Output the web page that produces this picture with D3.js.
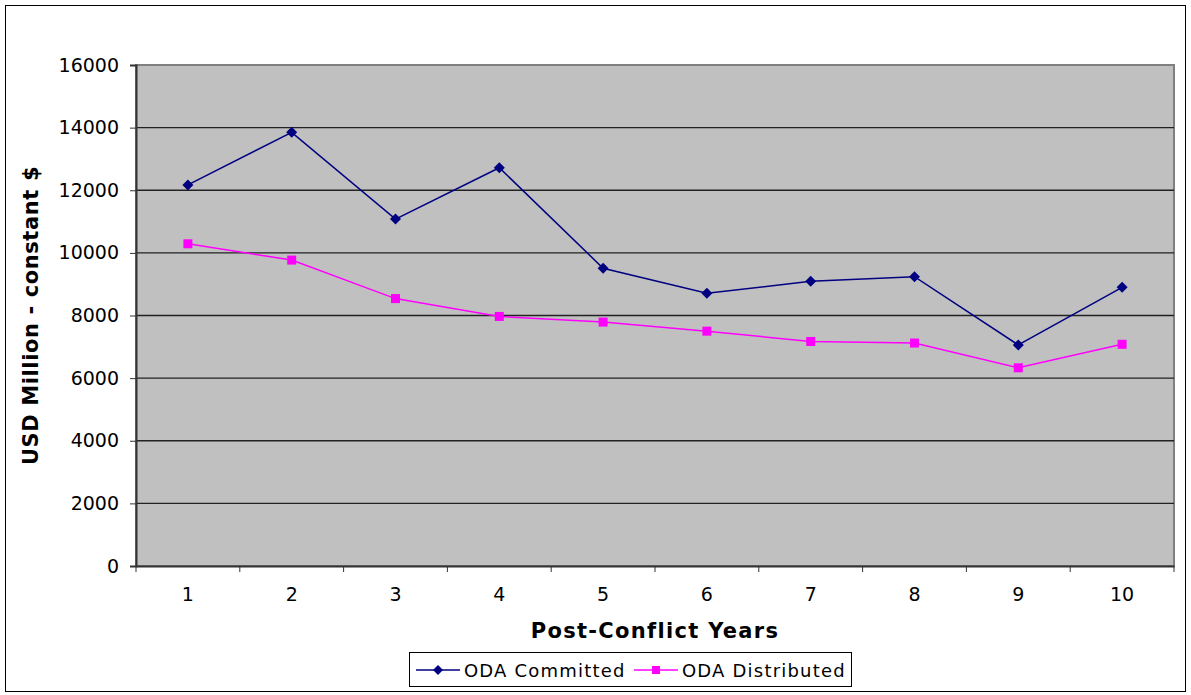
<!DOCTYPE html>
<html><head>
<script src="https://d3js.org/d3.v7.min.js"></script>
<style>
body { margin: 0; background: #fff; }
text { font-family: "DejaVu Sans", Verdana, sans-serif; }
</style>
</head><body>
<svg id="chart" width="1191" height="695"></svg>
<script>
var years = ["1","2","3","4","5","6","7","8","9","10"];
var committed = [12170, 13850, 11080, 12720, 9510, 8710, 9090, 9240, 7060, 8900];
var distributed = [10290, 9770, 8540, 7970, 7790, 7500, 7170, 7120, 6330, 7080];
var yTicks = [0, 2000, 4000, 6000, 8000, 10000, 12000, 14000, 16000];

var margin = {top: 65, right: 17, bottom: 129, left: 136},
    width = 1191 - margin.left - margin.right,
    height = 695 - margin.top - margin.bottom;

var svg = d3.select("#chart");

// outer frame
svg.append("rect").attr("x", 5.5).attr("y", 5.5).attr("width", 1180).attr("height", 686)
   .attr("fill", "#fff").attr("stroke", "#000").attr("stroke-width", 1);

var g = svg.append("g").attr("transform", "translate(" + margin.left + "," + margin.top + ")");

var x = d3.scaleBand().domain(years).range([0, width]);
var y = d3.scaleLinear().domain([0, 16000]).range([height, 0]);

g.append("rect").attr("width", width).attr("height", height)
  .attr("fill", "#c0c0c0").attr("stroke", "#808080").attr("stroke-width", 2);

// gridlines
g.selectAll(".grid").data(yTicks.filter(function(d){ return d > 0 && d < 16000; }))
  .enter().append("line")
  .attr("x1", 0).attr("x2", width)
  .attr("y1", function(d){ return y(d); }).attr("y2", function(d){ return y(d); })
  .attr("stroke", "#222").attr("stroke-width", 1.3);

// y axis
var yAxis = g.append("g")
  .call(d3.axisLeft(y).tickValues(yTicks).tickSize(6).tickPadding(11).tickFormat(d3.format("d")));
yAxis.select(".domain").attr("stroke", "#333").attr("stroke-width", 2);
yAxis.selectAll(".tick line").attr("stroke", "#333");
yAxis.selectAll("text").attr("font-size", 19).attr("fill", "#000")
  .style("font-family", "DejaVu Sans, Verdana, sans-serif");

// x axis
var xAxis = g.append("g").attr("transform", "translate(0," + height + ")")
  .call(d3.axisBottom(x).tickSize(0).tickPadding(22));
xAxis.select(".domain").attr("stroke", "#333").attr("stroke-width", 2);
xAxis.selectAll("text").attr("font-size", 19).attr("fill", "#000")
  .style("font-family", "DejaVu Sans, Verdana, sans-serif");
// ticks at band boundaries
g.selectAll(".xtick").data(years.concat(["end"])).enter().append("line")
  .attr("x1", function(d, i){ return i * x.bandwidth(); })
  .attr("x2", function(d, i){ return i * x.bandwidth(); })
  .attr("y1", height).attr("y2", height + 6)
  .attr("stroke", "#333");

var cx = function(d, i){ return x(years[i]) + x.bandwidth() / 2; };

var line = d3.line().x(cx).y(function(d){ return y(d); });

// distributed
g.append("path").datum(distributed).attr("d", line)
  .attr("fill", "none").attr("stroke", "#ff00ff").attr("stroke-width", 1.5);
g.selectAll(".sq").data(distributed).enter().append("rect")
  .attr("x", function(d, i){ return cx(d, i) - 4.5; })
  .attr("y", function(d){ return y(d) - 4.5; })
  .attr("width", 9).attr("height", 9).attr("fill", "#ff00ff");

// committed
g.append("path").datum(committed).attr("d", line)
  .attr("fill", "none").attr("stroke", "#000080").attr("stroke-width", 1.5);
g.selectAll(".dia").data(committed).enter().append("path")
  .attr("d", "M0,-5.5L5.5,0L0,5.5L-5.5,0Z")
  .attr("transform", function(d, i){ return "translate(" + cx(d, i) + "," + y(d) + ")"; })
  .attr("fill", "#000080");

// axis titles
svg.append("text").attr("x", margin.left + width / 2).attr("y", 638)
  .attr("text-anchor", "middle").attr("font-size", 21).attr("font-weight", "bold")
  .attr("letter-spacing", 1.3)
  .text("Post-Conflict Years");
svg.append("text").attr("transform", "translate(38," + (margin.top + height / 2) + ") rotate(-90)")
  .attr("text-anchor", "middle").attr("font-size", 21).attr("font-weight", "bold")
  .attr("letter-spacing", 0.6)
  .text("USD Million - constant $");

// legend
var lg = svg.append("g");
lg.append("rect").attr("x", 409.5).attr("y", 652.5).attr("width", 442).attr("height", 34)
  .attr("fill", "#fff").attr("stroke", "#000");
var items = [
  {name: "ODA Committed", color: "#000080", x: 416, shape: "diamond"},
  {name: "ODA Distributed", color: "#ff00ff", x: 634, shape: "square"}
];
items.forEach(function(it){
  lg.append("line").attr("x1", it.x).attr("x2", it.x + 44).attr("y1", 670).attr("y2", 670)
    .attr("stroke", it.color).attr("stroke-width", 1.5);
  if (it.shape === "diamond") {
    lg.append("path").attr("d", "M0,-5L5,0L0,5L-5,0Z")
      .attr("transform", "translate(" + (it.x + 22) + ",670)").attr("fill", it.color);
  } else {
    lg.append("rect").attr("x", it.x + 18).attr("y", 666).attr("width", 8).attr("height", 8)
      .attr("fill", it.color);
  }
  lg.append("text").attr("x", it.x + 48).attr("y", 677).attr("font-size", 18)
    .attr("letter-spacing", 1.2)
    .text(it.name);
});
</script>
</body></html>
